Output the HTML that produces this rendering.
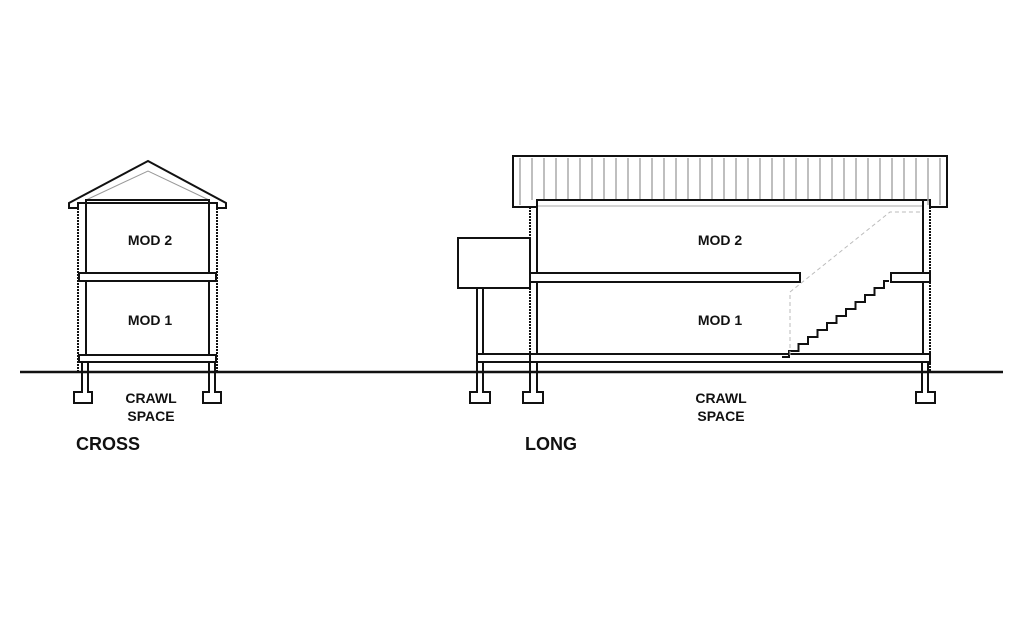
<!DOCTYPE html>
<html><head><style>body{margin:0;background:#fff}svg{display:block}text{font-family:"Liberation Sans",sans-serif;font-weight:bold;fill:#111}</style></head>
<body>
<svg width="1024" height="644" viewBox="0 0 1024 644" xmlns="http://www.w3.org/2000/svg">
<g fill="none" stroke="#111" stroke-width="2">
<line x1="20" y1="372" x2="1003" y2="372" stroke-width="2.5"/>
<!-- CROSS -->
<polygon points="69,203 148,161 226,203 226,208 217,208 217,203 78,203 78,208 69,208" stroke-linejoin="miter"/>
<polyline points="86,200 148,171 209,200" stroke="#999" stroke-width="1"/>
<line x1="78" y1="208" x2="78" y2="372" stroke-dasharray="2 1"/>
<line x1="217" y1="208" x2="217" y2="372" stroke-dasharray="2 1"/>
<rect x="86" y="200" width="123" height="155"/>
<rect x="79" y="273" width="137" height="8" fill="#fff"/>
<rect x="79" y="355" width="137" height="7" fill="#fff"/>
<path d="M82 362 V392 H74 V403 H92 V392 H88 V362"/>
<path d="M209 362 V392 H203 V403 H221 V392 H215 V362"/>
<!-- LONG roof -->
<path d="M513 156 H947 V207 H930 V200 H537 V207 H513 Z"/>
<g stroke="#aaa" stroke-width="1.5">
<path d="M520 158V205M532 158V200M544 158V200M556 158V200M568 158V200M580 158V200M592 158V200M604 158V200M616 158V200M628 158V200M640 158V200M652 158V200M664 158V200M676 158V200M688 158V200M700 158V200M712 158V200M724 158V200M736 158V200M748 158V200M760 158V200M772 158V200M784 158V200M796 158V200M808 158V200M820 158V200M832 158V200M844 158V200M856 158V200M868 158V200M880 158V200M892 158V200M904 158V200M916 158V200M928 158V205M940 158V205"/>
<line x1="537" y1="206" x2="923" y2="206" stroke-width="1"/>
</g>
<line x1="530" y1="207" x2="530" y2="372" stroke-dasharray="2 1"/>
<line x1="930" y1="207" x2="930" y2="372" stroke-dasharray="2 1"/>
<rect x="537" y="200" width="386" height="154"/>
<rect x="530" y="273" width="270" height="9" fill="#fff"/>
<rect x="891" y="273" width="39" height="9" fill="#fff"/>
<rect x="458" y="238" width="72" height="50" fill="#fff"/>
<path d="M477 288 V354 M483 288 V354"/>
<rect x="477" y="354" width="453" height="8" fill="#fff"/>
<line x1="530" y1="354" x2="530" y2="362"/>
<path d="M477 362 V392 H470 V403 H490 V392 H483 V362"/>
<path d="M530 362 V392 H523 V403 H543 V392 H537 V362"/>
<path d="M922 362 V392 H916 V403 H935 V392 H928 V362"/>
<!-- stairs -->
<path d="M782 357 H789 V351 h9.5 v-7 h9.5 v-7 h9.5 v-7 h9.5 v-7 h9.5 v-7 h9.5 v-7 h9.5 v-7 h9.5 v-7 h9.5 v-7 h9.5 v-7 h5"/>
<path d="M790 355 V292 L890 212 H923" stroke="#bbb" stroke-width="1" stroke-dasharray="4 3"/>
</g>
<g font-size="14" text-anchor="middle">
<text x="150" y="245">MOD 2</text>
<text x="150" y="325">MOD 1</text>
<text x="151" y="403">CRAWL</text>
<text x="151" y="421">SPACE</text>
<text x="720" y="245">MOD 2</text>
<text x="720" y="325">MOD 1</text>
<text x="721" y="403">CRAWL</text>
<text x="721" y="421">SPACE</text>
</g>
<text x="76" y="450" font-size="18">CROSS</text>
<text x="525" y="450" font-size="18">LONG</text>
</svg>
</body></html>
